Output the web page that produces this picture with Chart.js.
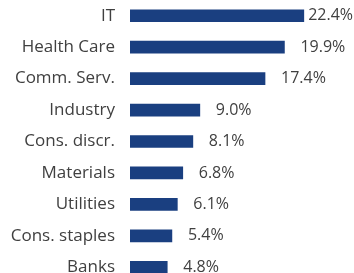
<!DOCTYPE html>
<html>
<head>
<meta charset="utf-8">
<script src="https://cdn.jsdelivr.net/npm/chart.js@4"></script>
<style>
  html, body { margin: 0; padding: 0; background: #fff; }
  body { width: 354px; height: 273px; overflow: hidden; }
</style>
</head>
<body>
<canvas id="chart" width="354" height="283"></canvas>
<script>
// sectors and weights (%)
let sectors = ['IT', 'Health Care', 'Comm. Serv.', 'Industry', 'Cons. discr.', 'Materials', 'Utilities', 'Cons. staples', 'Banks']
let weights = [22.4, 19.9, 17.4, 9.0, 8.1, 6.8, 6.1, 5.4, 4.8]

let barColor = '#1a3f80'
let textColor = '#404040'
let fontFamily = "'Open Sans', sans-serif"

// draw "x.x%" after each bar, kept inside the canvas
let valueLabels = {
    id: 'valueLabels',
    afterDatasetsDraw(chart) {
        let ctx = chart.ctx
        let meta = chart.getDatasetMeta(0)
        ctx.save()
        ctx.font = '16px ' + fontFamily
        ctx.fillStyle = textColor
        ctx.textBaseline = 'middle'
        ctx.textAlign = 'left'
        meta.data.forEach((bar, i) => {
            let txt = weights[i].toFixed(1) + '%'
            let w = ctx.measureText(txt).width
            let x = Math.min(bar.x + 16, chart.width - w - 1)
            ctx.fillText(txt, x, bar.y)
        })
        ctx.restore()
    }
}

new Chart(document.getElementById('chart'), {
    type: 'bar',
    data: {
        labels: sectors,
        datasets: [{
            data: weights,
            backgroundColor: barColor,
            barThickness: 12
        }]
    },
    options: {
        indexAxis: 'y',
        responsive: false,
        animation: false,
        layout: { padding: { top: 0, right: 30, bottom: 0, left: 0 } },
        scales: {
            x: {
                display: false,
                min: 0,
                max: 25
            },
            y: {
                grid: { display: false, drawTicks: false },
                border: { display: false },
                afterFit: function (scale) {
                    // fixed axis width, no extra room above/below the rows
                    scale.width = 130
                    scale.paddingTop = 0
                    scale.paddingBottom = 0
                },
                ticks: {
                    padding: 15,
                    autoSkip: false,
                    color: textColor,
                    font: { family: fontFamily, size: 17 }
                }
            }
        },
        plugins: {
            legend: { display: false },
            tooltip: { enabled: false }
        }
    },
    plugins: [valueLabels]
})
</script>
</body>
</html>
